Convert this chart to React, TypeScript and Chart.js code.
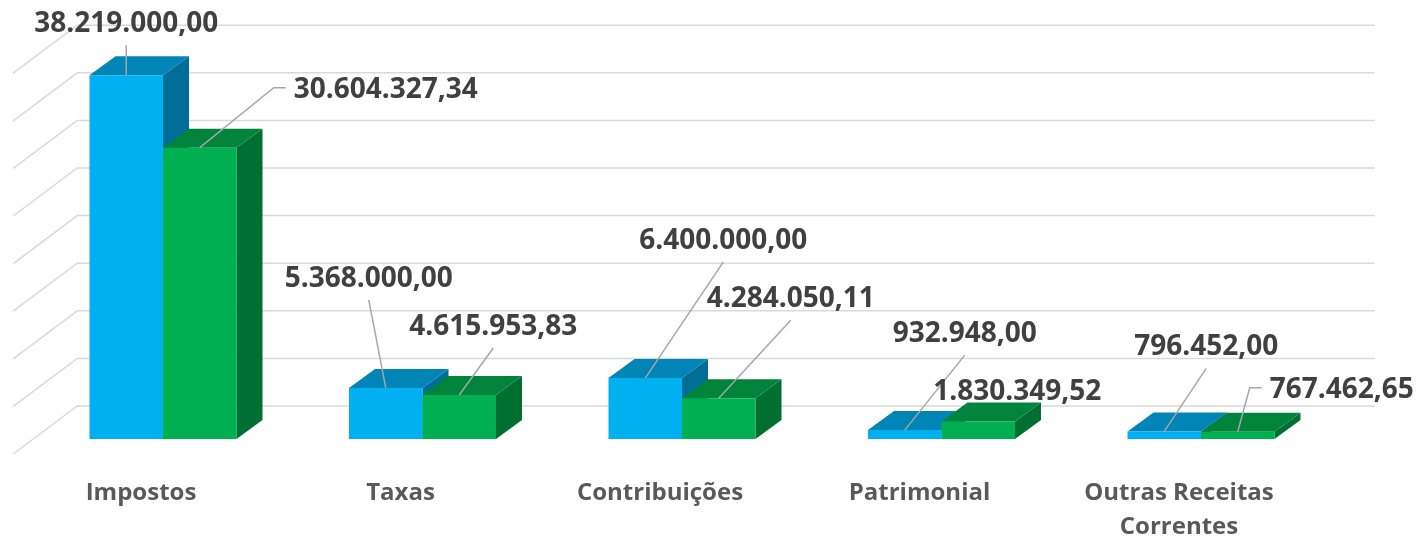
import React, { useEffect, useRef } from 'react';
import { Chart, registerables } from 'chart.js';

Chart.register(...registerables);

// ---------- data ----------
const categories: (string | string[])[] = [
  'Impostos',
  'Taxas',
  'Contribuições',
  'Patrimonial',
  ['Outras Receitas', 'Correntes'],
];
const seriesBlue = [38219000, 5368000, 6400000, 932948, 796452];
const seriesGreen = [30604327.34, 4615953.83, 4284050.11, 1830349.52, 767462.65];
const yMax = 40000000;
const yStep = 5000000;

// ---------- label placement (px, relative to bar top-front centre) ----------
const labelOffsetsBlue = [[0, -53], [-17, -111], [78, -139], [60, -98], [42, -86]];
const labelOffsetsGreen = [[186, -60], [34, -70], [72, -101], [39, -32], [104, -44]];
const leaderBlue = ['down', 'down', 'down', 'down', 'down'];
const leaderGreen = ['elbow', 'down', 'down', 'none', 'elbow'];

// ---------- styles ----------
const frontColors = ['#00B0F0', '#00B050'];
const topColors = ['#0085B6', '#00843C'];
const sideColors = ['#006E98', '#006F31'];
const depth = { dx: 26, dy: -19 };
const wall = { dx: 44, dy: -33 };
const wallSide = { dx: -64, dy: 48 };
const labelFontSize = 28;

function fmt(v: number): string {
  const [i, d] = v.toFixed(2).split('.');
  return i.replace(/\B(?=(\d{3})+(?!\d))/g, '.') + ',' + d;
}

const threeD = {
  id: 'threeD',
  beforeDatasetsDraw(chart: any) {
    const { ctx, chartArea, scales } = chart;
    const ys = scales.y;
    ctx.save();
    ctx.strokeStyle = '#d9d9d9';
    ctx.lineWidth = 1.5;
    for (let v = 0; v <= yMax; v += yStep) {
      const py = ys.getPixelForValue(v) + wall.dy;
      const x0 = chartArea.left + wall.dx;
      const x1 = chartArea.right + wall.dx;
      ctx.beginPath();
      ctx.moveTo(x0 + wallSide.dx, py + wallSide.dy);
      ctx.lineTo(x0, py);
      ctx.lineTo(x1, py);
      ctx.stroke();
    }
    const poly = (pts: number[][]) => {
      ctx.beginPath();
      ctx.moveTo(pts[0][0], pts[0][1]);
      for (let k = 1; k < pts.length; k++) ctx.lineTo(pts[k][0], pts[k][1]);
      ctx.closePath();
      ctx.fill();
    };
    for (let i = 0; i < categories.length; i++) {
      chart.data.datasets.forEach((_ds: any, di: number) => {
        const bar = chart.getDatasetMeta(di).data[i];
        const { x, y, base, width } = bar.getProps(['x', 'y', 'base', 'width'], true);
        const l = x - width / 2;
        const r = x + width / 2;
        ctx.fillStyle = sideColors[di];
        poly([[r, y], [r + depth.dx, y + depth.dy], [r + depth.dx, base + depth.dy], [r, base]]);
        ctx.fillStyle = topColors[di];
        poly([[l, y], [l + depth.dx, y + depth.dy], [r + depth.dx, y + depth.dy], [r, y]]);
      });
    }
    ctx.restore();
  },
  afterDatasetsDraw(chart: any) {
    const { ctx } = chart;
    ctx.save();
    ctx.font = `bold ${labelFontSize}px "Open Sans"`;
    ctx.textAlign = 'center';
    ctx.textBaseline = 'alphabetic';
    const offsets = [labelOffsetsBlue, labelOffsetsGreen];
    const leaders = [leaderBlue, leaderGreen];
    chart.data.datasets.forEach((ds: any, di: number) => {
      const meta = chart.getDatasetMeta(di);
      ds.data.forEach((v: number, i: number) => {
        const { x, y } = meta.data[i].getProps(['x', 'y'], true);
        const cx = x + offsets[di][i][0];
        const cy = y + offsets[di][i][1];
        const text = fmt(v);
        const w = ctx.measureText(text).width;
        ctx.strokeStyle = '#a6a6a6';
        ctx.lineWidth = 1.5;
        const kind = leaders[di][i];
        if (kind === 'down') {
          ctx.beginPath();
          ctx.moveTo(cx, cy + 23);
          ctx.lineTo(x, y);
          ctx.stroke();
        } else if (kind === 'elbow') {
          const ex = cx - w / 2 - 8;
          ctx.beginPath();
          ctx.moveTo(x, y);
          ctx.lineTo(ex - 12, cy);
          ctx.lineTo(ex, cy);
          ctx.stroke();
        }
        ctx.fillStyle = '#404040';
        ctx.fillText(text, cx, cy + labelFontSize * 0.357);
      });
    });
    ctx.restore();
  },
};

export default function App() {
  const ref = useRef<HTMLCanvasElement | null>(null);
  useEffect(() => {
    if (!ref.current) return;
    const chart = new Chart(ref.current, {
      type: 'bar',
      data: {
        labels: categories as any,
        datasets: [
          { label: 'A', data: seriesBlue, backgroundColor: frontColors[0], borderWidth: 0 },
          { label: 'B', data: seriesGreen, backgroundColor: frontColors[1], borderWidth: 0 },
        ],
      },
      options: {
        responsive: false,
        animation: false,
        events: [],
        layout: { padding: { left: 33.25, right: 85.25, top: 58.2, bottom: 0 } },
        datasets: { bar: { categoryPercentage: 0.5665, barPercentage: 1 } },
        plugins: { legend: { display: false }, tooltip: { enabled: false } },
        scales: {
          y: { display: false, min: 0, max: yMax },
          x: {
            grid: { display: false, drawTicks: false },
            border: { display: false },
            ticks: {
              color: '#595959',
              font: { family: '"Open Sans"', size: 24, weight: 'bold', lineHeight: 1.42 },
              padding: 37,
              labelOffset: -22,
              maxRotation: 0,
              autoSkip: false,
            },
            afterFit: (scale: any) => {
              scale.height = 99;
            },
          },
        },
      },
      plugins: [threeD],
    } as any);
    return () => chart.destroy();
  }, []);
  return (
    <div style={{ position: 'fixed', left: 0, top: 0, width: 1416, height: 538, background: '#fff' }}>
      <canvas ref={ref} width={1416} height={538} style={{ display: 'block' }} />
    </div>
  );
}
